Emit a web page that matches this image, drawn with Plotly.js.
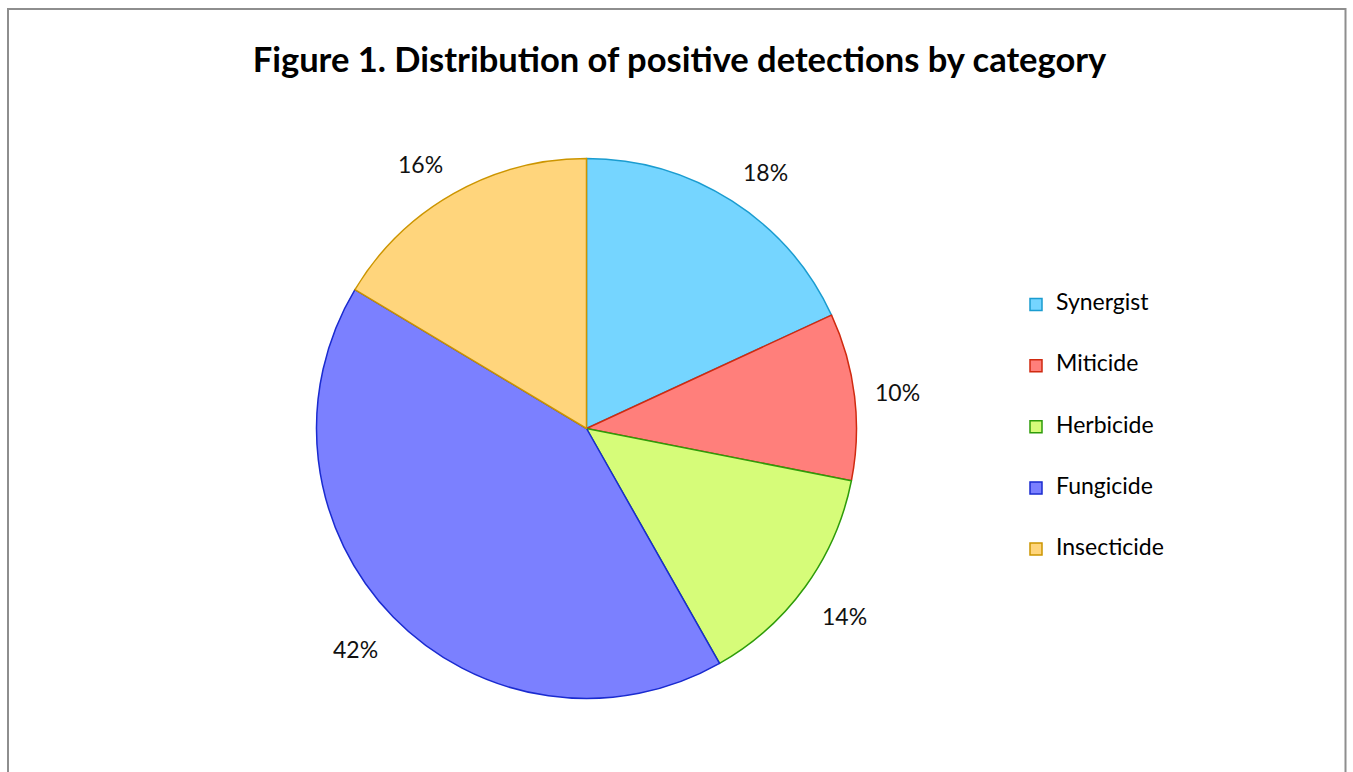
<!DOCTYPE html>
<html>
<head>
<meta charset="utf-8">
<script src="https://cdn.plot.ly/plotly-3.0.1.min.js"></script>
<style>html,body{margin:0;padding:0;background:#fff;}#chart{width:1353px;height:772px;}</style>
</head>
<body>
<div id="chart"></div>
<script>
const categories = ["Synergist", "Miticide", "Herbicide", "Fungicide", "Insecticide"];
const shares = [18.1, 10.0, 13.7, 41.8, 16.4];
const fillColors = ["#75D5FF", "#FF7F7B", "#D6FC79", "#7B80FF", "#FFD57C"];
const edgeColors = ["#1A9CD0", "#D02A10", "#2E9C0A", "#1A2BD0", "#CC9500"];

const W = 1353, H = 772;
const cx = 586.5, cy = 428.5, R = 270;
const domX = [(cx - R) / W, (cx + R) / W];
const domY = [1 - (cy + R) / H, 1 - (cy - R) / H];

// percentage labels outside each slice, positioned from the data (Excel-like "outside end")
const total = shares.reduce((a, b) => a + b, 0);
const clamp = v => Math.max(-1, Math.min(1, v));
const annotations = [];
let cum = 0;
shares.forEach((v) => {
  const mid = (cum + v / 2) / total * 2 * Math.PI;
  cum += v;
  const g = 21, hw = 22.5, hh = 14;
  const s = Math.sin(mid), c = Math.cos(mid);
  const px = cx + (R + g) * s + hw * clamp(3 * s);
  const py = cy - (R + g) * c - hh * clamp(3 * c) + 3;
  annotations.push({
    x: px / W, y: 1 - py / H, xref: "paper", yref: "paper",
    text: Math.round(v / total * 100) + "%", showarrow: false,
    font: {family: "Lato", size: 23, color: "#111"},
    xanchor: "center", yanchor: "middle"
  });
});

const legendLabels = categories.map(c => "<br><span style='font-size:23px'>" + c + "</span><br>");

const trace = {
  type: "pie",
  values: shares,
  labels: legendLabels,
  sort: false,
  direction: "clockwise",
  rotation: 0,
  textinfo: "none",
  hoverinfo: "skip",
  marker: {colors: fillColors, line: {color: edgeColors, width: 1.5}},
  domain: {x: domX, y: domY}
};

const layout = {
  width: W, height: H,
  margin: {l: 0, r: 0, t: 0, b: 0},
  paper_bgcolor: "#fff",
  title: {
    text: "<b>Figure 1. Distribution of positive detections by category</b>",
    font: {family: "Lato", size: 34.5, color: "#000"},
    x: 679.5 / W, xanchor: "center",
    y: 1 - 60 / H, yanchor: "middle", yref: "container"
  },
  showlegend: true,
  legend: {
    x: 1016 / W, xanchor: "left",
    y: 1 - 427 / H, yanchor: "middle",
    font: {family: "Lato", size: 14.9, color: "#000"},
    bgcolor: "rgba(0,0,0,0)",
    itemclick: false
  },
  annotations: annotations,
  shapes: [{
    type: "rect", xref: "paper", yref: "paper",
    x0: 8 / W, x1: 1345.5 / W, y0: -0.05, y1: 1 - 9 / H,
    line: {color: "#8E8E8E", width: 2}, fillcolor: "rgba(0,0,0,0)"
  }]
};

Plotly.newPlot("chart", [trace], layout, {displayModeBar: false, staticPlot: true});
</script>
</body>
</html>
